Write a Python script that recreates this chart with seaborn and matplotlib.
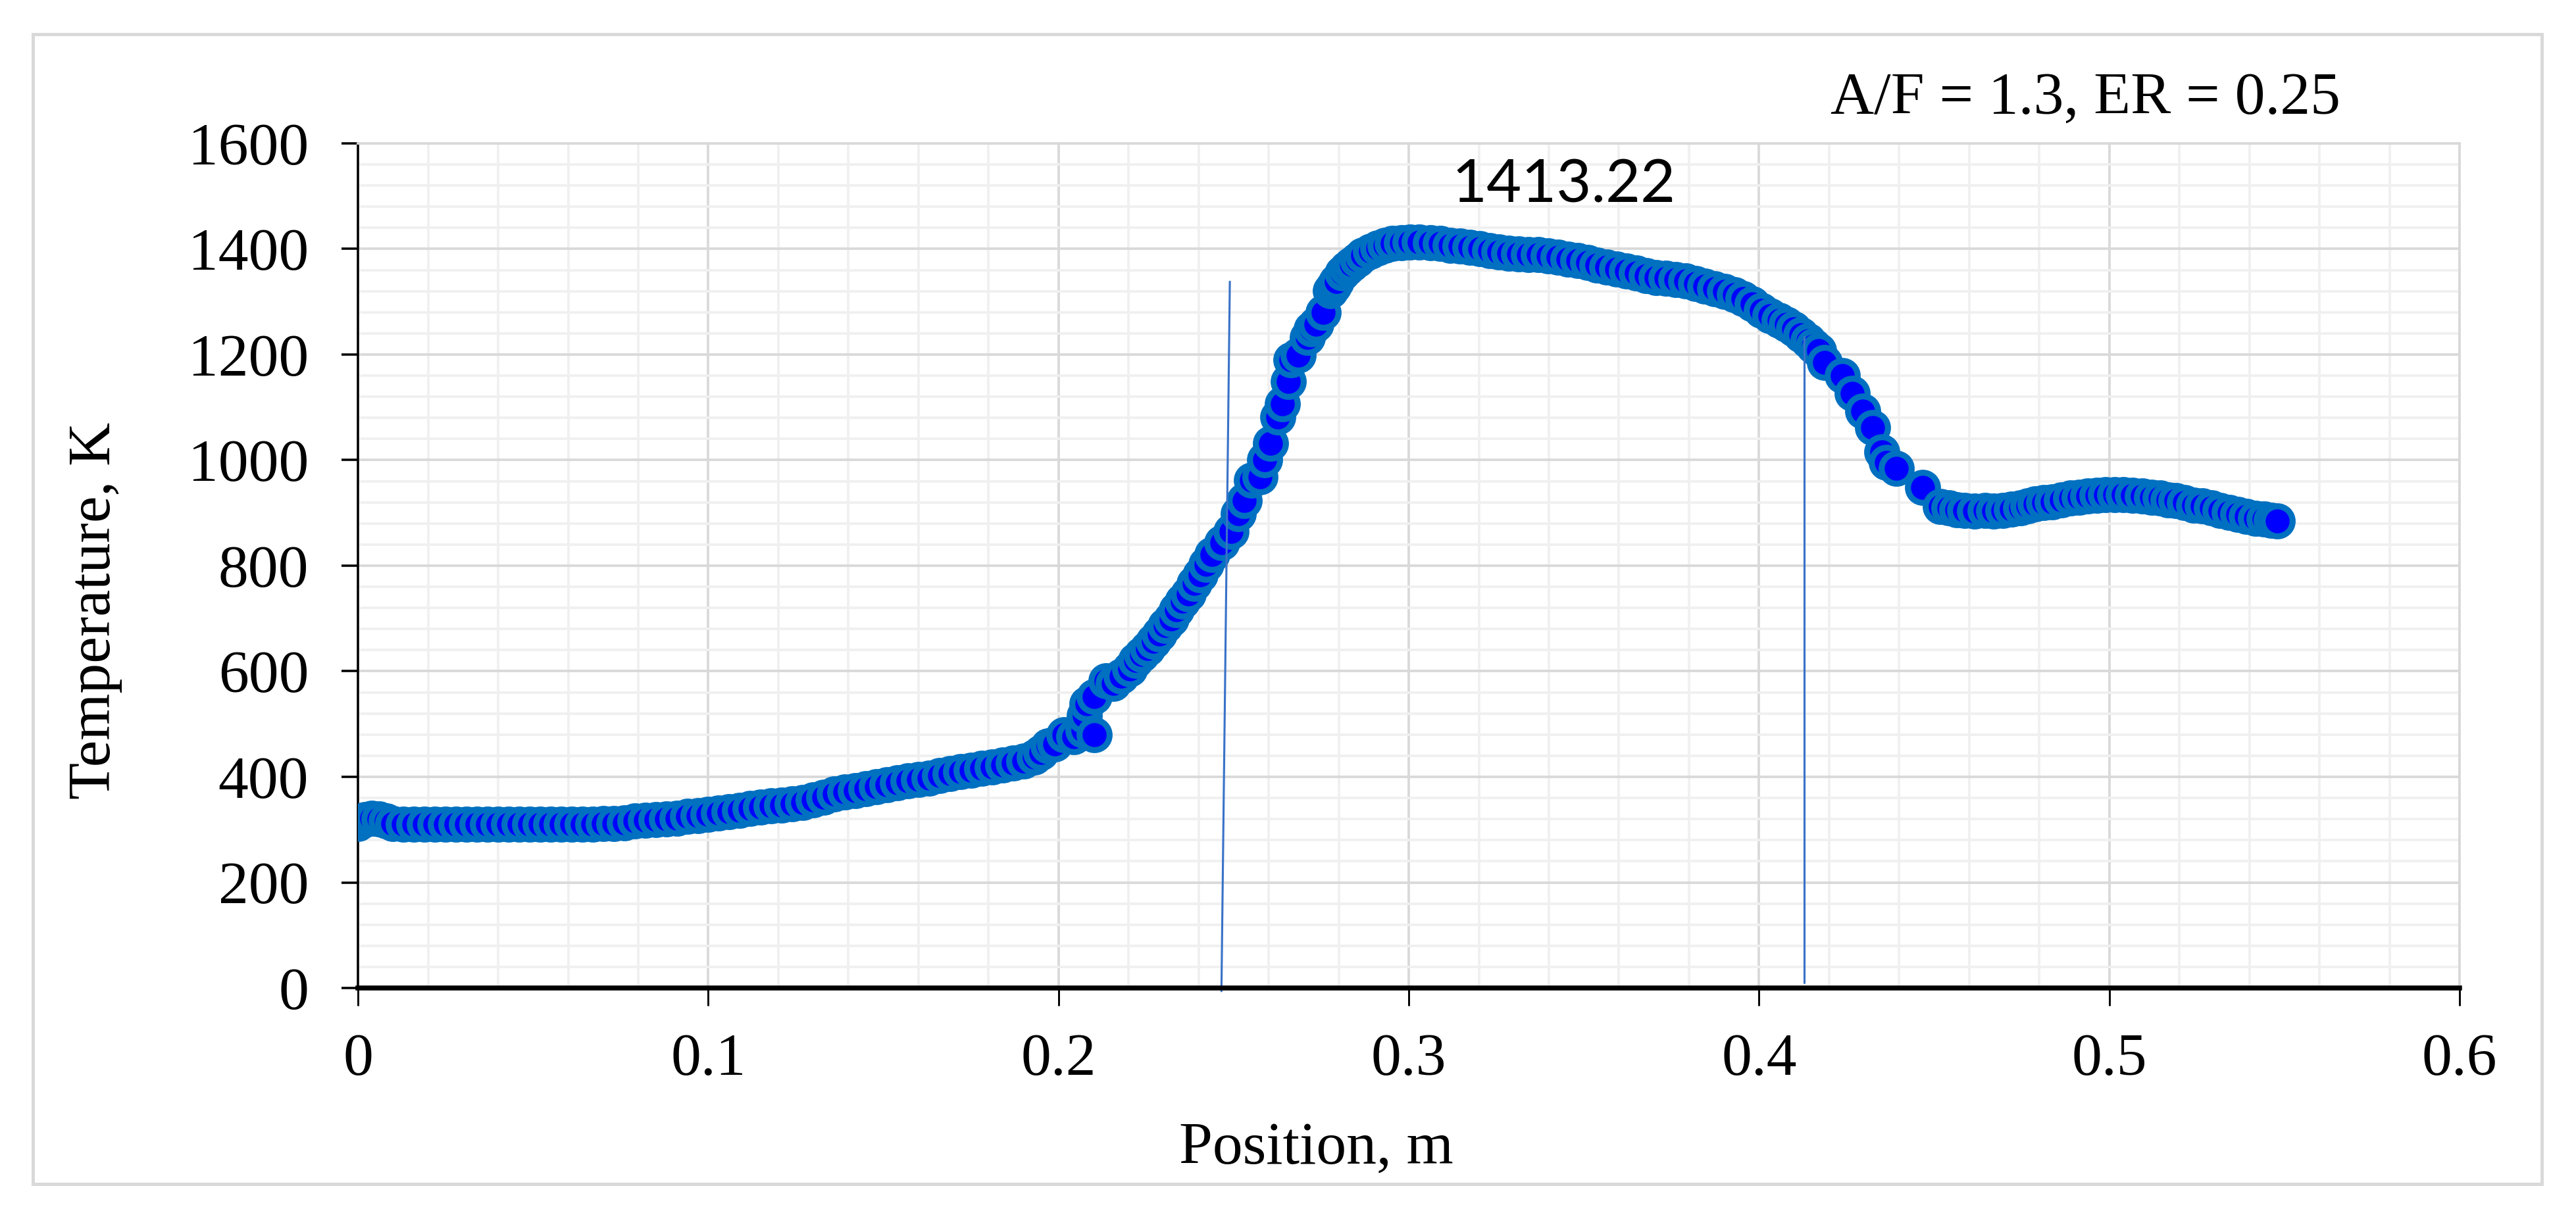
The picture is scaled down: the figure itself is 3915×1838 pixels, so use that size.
"""Temperature profile along the reactor (A/F = 1.3, ER = 0.25)."""

import matplotlib
import matplotlib.pyplot as plt
import pandas as pd
import seaborn as sns
from matplotlib.patches import Rectangle
from matplotlib.ticker import FuncFormatter, MultipleLocator

matplotlib.use("Agg")

# flat inlet section
x_inlet = [0.000, 0.002, 0.004, 0.006, 0.008, 0.010, 0.013, 0.016, 0.019, 0.022,
           0.025, 0.028, 0.031, 0.034, 0.037, 0.040, 0.043, 0.046, 0.049, 0.052,
           0.055, 0.058, 0.061, 0.064, 0.067, 0.070, 0.073]
t_inlet = [312, 319, 321, 320, 317, 312, 310, 310, 310, 310,
           310, 310, 310, 310, 310, 310, 310, 310, 310, 310,
           310, 310, 310, 310, 310, 311, 312]

# slow preheating
x_preheat = [0.076, 0.079, 0.082, 0.085, 0.088, 0.091, 0.094, 0.097, 0.100, 0.103,
             0.106, 0.109, 0.112, 0.115, 0.118, 0.121, 0.124, 0.127, 0.130, 0.133,
             0.136, 0.139, 0.142, 0.145, 0.148, 0.151, 0.154, 0.157, 0.160, 0.163,
             0.166, 0.169, 0.172, 0.175, 0.178, 0.181, 0.184, 0.187, 0.190, 0.193,
             0.195, 0.197, 0.199]
t_preheat = [313, 316, 318, 319, 320, 322, 325, 327, 329, 331,
             334, 336, 340, 343, 345, 347, 349, 352, 356, 361,
             367, 371, 374, 377, 381, 385, 389, 392, 395, 398,
             402, 406, 410, 413, 416, 419, 422, 426, 430, 437,
             446, 458, 462]

# ignition / steep rise
x_rise = [0.2015, 0.2044, 0.2069, 0.2074, 0.2081, 0.2102, 0.2102, 0.2136, 0.2157, 0.2178,
          0.2204, 0.2221, 0.2237, 0.2254, 0.2271, 0.2287, 0.2304, 0.2321, 0.2337, 0.2354,
          0.2371, 0.2388, 0.2405, 0.2421, 0.2438, 0.2467, 0.2492, 0.2513, 0.2530, 0.2551,
          0.2576, 0.2588, 0.2605, 0.2626, 0.2639, 0.2656, 0.2664, 0.2685, 0.2710, 0.2722,
          0.2735, 0.2756, 0.2777, 0.2786, 0.2794, 0.2810, 0.2824, 0.2836, 0.2853, 0.2869,
          0.2890, 0.2911, 0.2932]
t_rise = [480, 476, 488, 516, 538, 552, 480, 582, 577, 591,
          604, 621, 632, 643, 657, 671, 686, 699, 716, 733,
          746, 766, 782, 802, 821, 843, 865, 898, 923, 962,
          968, 1001, 1032, 1082, 1107, 1149, 1190, 1199, 1232, 1249,
          1257, 1280, 1321, 1330, 1338, 1354, 1363, 1371, 1379, 1388,
          1395, 1402, 1407]

# combustion plateau
x_peak = [0.2953, 0.2980, 0.3004, 0.3030, 0.3062, 0.3090, 0.3118, 0.3146, 0.3174, 0.3202,
          0.3230, 0.3258, 0.3286, 0.3314, 0.3342, 0.3370, 0.3398, 0.3426, 0.3454, 0.3482,
          0.3510, 0.3538, 0.3566, 0.3594, 0.3622, 0.3650, 0.3678, 0.3706, 0.3734, 0.3762,
          0.3790, 0.3818, 0.3846, 0.3874, 0.3902, 0.3930, 0.3955, 0.3980, 0.4006, 0.4032,
          0.4057, 0.4078, 0.4099, 0.4120, 0.4140, 0.4155, 0.4170, 0.4187]
t_peak = [1410, 1412, 1413, 1413.22, 1412, 1410, 1407, 1405, 1403, 1400,
          1397, 1394, 1392, 1391, 1390, 1389, 1387, 1384, 1381, 1378,
          1374, 1370, 1366, 1362, 1358, 1354, 1350, 1346, 1344, 1342,
          1339, 1335, 1330, 1325, 1319, 1313, 1306, 1296, 1284, 1273,
          1265, 1257, 1249, 1237, 1226, 1216, 1207, 1185]

# cooling / outlet
x_outlet = [0.4237, 0.4266, 0.4296, 0.4325, 0.4350, 0.4363, 0.4392, 0.4467, 0.4518, 0.4543,
            0.4565, 0.4587, 0.4616, 0.4645, 0.4670, 0.4696, 0.4720, 0.4746, 0.4767, 0.4788,
            0.4813, 0.4838, 0.4863, 0.4889, 0.4914, 0.4939, 0.4964, 0.4989, 0.5015, 0.5040,
            0.5067, 0.5094, 0.5120, 0.5145, 0.5168, 0.5190, 0.5215, 0.5241, 0.5266, 0.5291,
            0.5317, 0.5342, 0.5367, 0.5392, 0.5417, 0.5442, 0.5462, 0.5480]
t_outlet = [1160, 1126, 1093, 1062, 1015, 996, 984, 948, 912, 910,
            906, 905, 904, 905, 904, 905, 907, 910, 914, 917,
            919, 921, 925, 928, 930, 932, 933, 934, 934, 934,
            933, 932, 930, 928, 925, 923, 919, 915, 913, 910,
            905, 901, 897, 893, 890, 888, 886, 885]

# zone boundary markers (x bottom, x top, T bottom, T top)
zone_start_x = [0.2465, 0.2489]
zone_start_t = [-6, 1338]
zone_end_x = [0.4129, 0.4129]
zone_end_t = [10, 1234]

peak_label = "1413.22"

df = pd.DataFrame({
    "position": x_inlet + x_preheat + x_rise + x_peak + x_outlet,
    "temperature": t_inlet + t_preheat + t_rise + t_peak + t_outlet,
})

sns.set_style("whitegrid")
plt.rcParams["font.family"] = ["Liberation Serif", "DejaVu Serif"]
plt.rcParams["text.color"] = "black"
plt.rcParams["axes.labelcolor"] = "black"

fig = plt.figure(figsize=(13.05, 6.1267), dpi=300)
ax = fig.add_axes([0.1390, 0.1828, 0.8158, 0.6986])

# gridlines first so they sit under the markers
ax.set_axisbelow(True)
ax.xaxis.set_major_locator(MultipleLocator(0.1))
ax.xaxis.set_minor_locator(MultipleLocator(0.02))
ax.yaxis.set_major_locator(MultipleLocator(200))
ax.yaxis.set_minor_locator(MultipleLocator(40))
ax.grid(which="major", color="#d9d9d9", linewidth=0.9)
ax.grid(which="minor", color="#f0f0f0", linewidth=0.9)

sns.scatterplot(
    data=df, x="position", y="temperature", ax=ax,
    s=120, color="#0000ff", edgecolor="#0070c0", linewidth=2.2,
    zorder=3, legend=False,
)

ax.plot(zone_start_x, zone_start_t, color="#3a72c8", linewidth=0.75, zorder=4,
        clip_on=False)
ax.plot(zone_end_x, zone_end_t, color="#3a72c8", linewidth=0.75, zorder=4)

ax.text(0.3443, 1488, peak_label, ha="center", va="baseline",
        fontsize=22, family=["Lato", "DejaVu Sans"], color="black")

ax.set_xlim(0, 0.6)
ax.set_ylim(0, 1600)
fmt = FuncFormatter(lambda v, _: f"{v:g}")
ax.xaxis.set_major_formatter(fmt)
ax.yaxis.set_major_formatter(fmt)

ax.tick_params(axis="both", which="major", labelsize=22, colors="black")
ax.tick_params(axis="y", which="major", direction="out", length=6, width=0.85,
               pad=12, left=True)
ax.tick_params(axis="x", which="major", direction="out", length=6.5, width=0.7,
               pad=10, bottom=True)
ax.tick_params(which="minor", length=0)

for side in ("top", "right"):
    ax.spines[side].set_color("#d9d9d9")
    ax.spines[side].set_linewidth(0.9)
ax.spines["left"].set_color("black")
ax.spines["left"].set_linewidth(0.85)
ax.spines["bottom"].set_color("black")
ax.spines["bottom"].set_linewidth(1.8)
ax.spines["bottom"].set_zorder(5)

ax.set_xlabel("Position, m", fontsize=22, color="black")
ax.set_ylabel("Temperature, K", fontsize=22, color="black")
ax.xaxis.set_label_coords(0.456, -0.158)
ax.yaxis.set_label_coords(-0.112, 0.447)

fig.text(0.9086, 0.9059, "A/F = 1.3, ER = 0.25", ha="right", va="baseline",
         fontsize=22, color="black")

# light frame around the whole chart
fig.patches.append(Rectangle((0.0128, 0.0207), 0.9739, 0.9510,
                             transform=fig.transFigure, fill=False,
                             edgecolor="#d9d9d9", linewidth=1.2))

fig.savefig("out.png", dpi=300, facecolor="white")
plt.close(fig)
